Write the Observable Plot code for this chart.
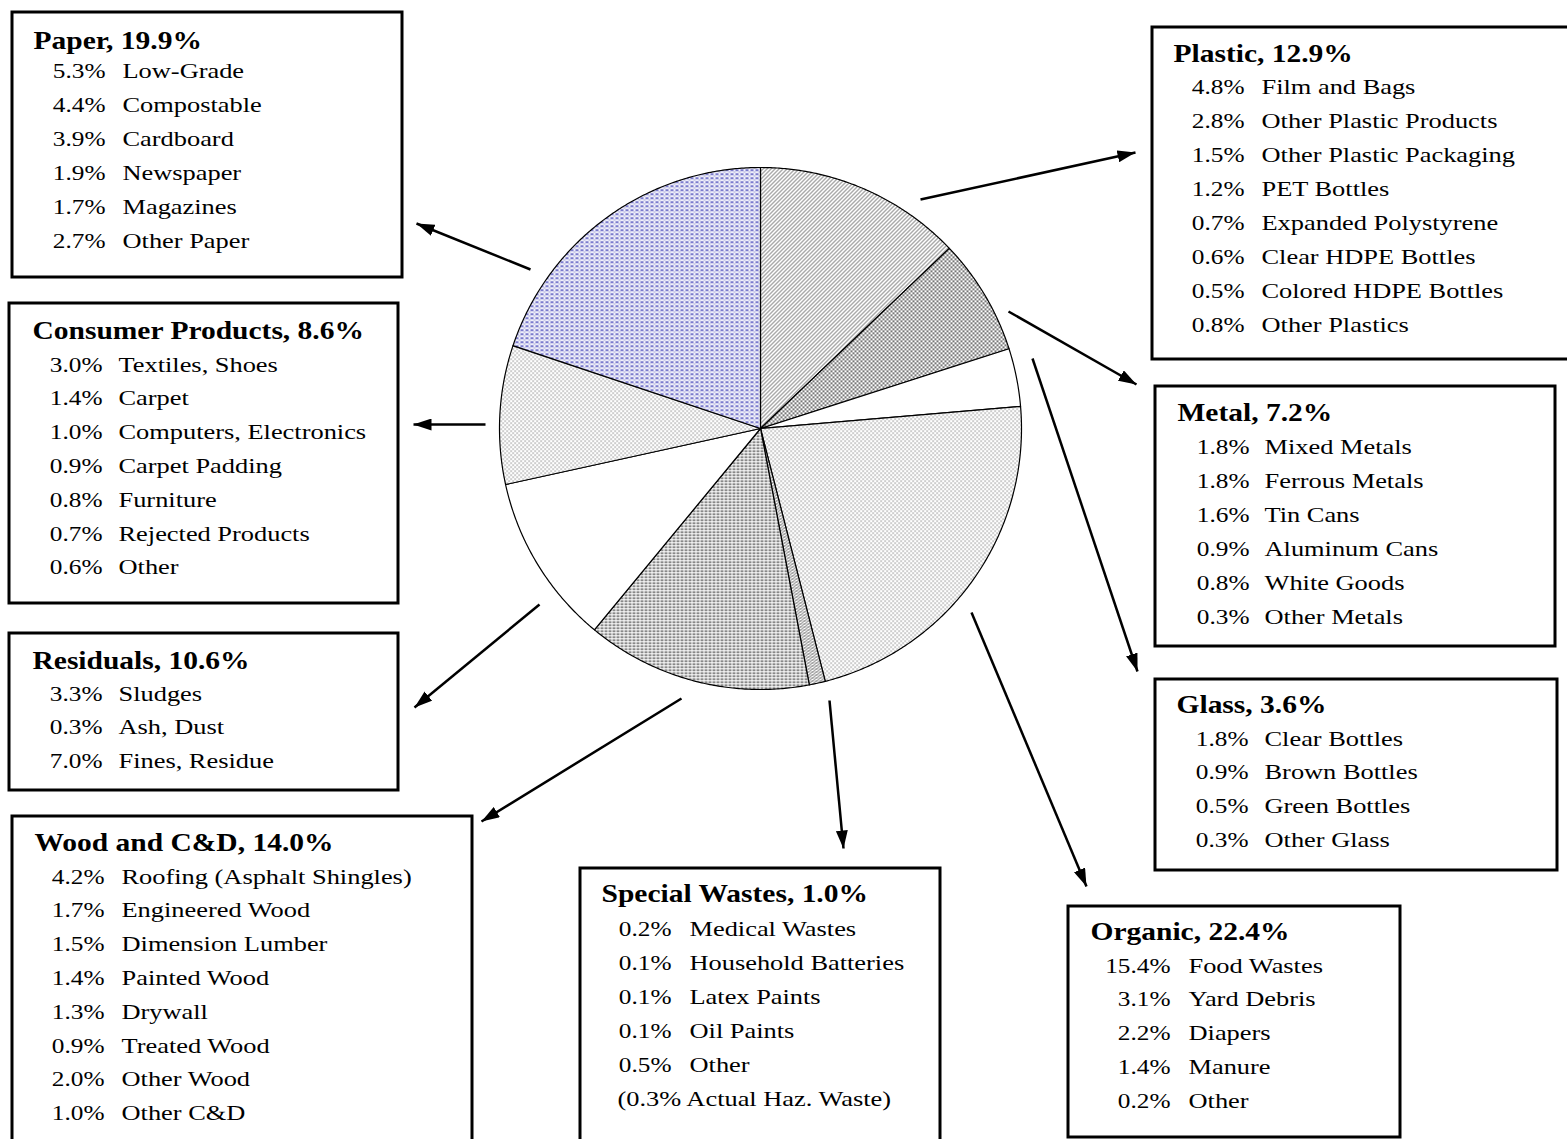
<!DOCTYPE html>
<html>
<head>
<meta charset="utf-8">
<script src="https://cdn.jsdelivr.net/npm/d3@7"></script>
<script src="https://cdn.jsdelivr.net/npm/@observablehq/plot@0.6"></script>
<style>
  body { margin: 0; background: #fff; }
</style>
</head>
<body>
<div id="chart"></div>
<script>
// ---- Waste composition: main categories (clockwise from 12 o'clock) ----
const categories = ["Plastic", "Metal", "Glass", "Organic", "Special Wastes",
                    "Wood and C&D", "Residuals", "Consumer Products", "Paper"];
const shares = [12.9, 7.2, 3.6, 22.4, 1.0, 14.0, 10.6, 8.6, 19.9];

// ---- Breakdown of each category ----
const plasticItems = ["Film and Bags", "Other Plastic Products", "Other Plastic Packaging", "PET Bottles",
                      "Expanded Polystyrene", "Clear HDPE Bottles", "Colored HDPE Bottles", "Other Plastics"];
const plasticShares = [4.8, 2.8, 1.5, 1.2, 0.7, 0.6, 0.5, 0.8];

const metalItems = ["Mixed Metals", "Ferrous Metals", "Tin Cans", "Aluminum Cans", "White Goods", "Other Metals"];
const metalShares = [1.8, 1.8, 1.6, 0.9, 0.8, 0.3];

const glassItems = ["Clear Bottles", "Brown Bottles", "Green Bottles", "Other Glass"];
const glassShares = [1.8, 0.9, 0.5, 0.3];

const organicItems = ["Food Wastes", "Yard Debris", "Diapers", "Manure", "Other"];
const organicShares = [15.4, 3.1, 2.2, 1.4, 0.2];

const specialItems = ["Medical Wastes", "Household Batteries", "Latex Paints", "Oil Paints", "Other"];
const specialShares = [0.2, 0.1, 0.1, 0.1, 0.5];
const hazardousShare = 0.3;

const woodItems = ["Roofing (Asphalt Shingles)", "Engineered Wood", "Dimension Lumber", "Painted Wood",
                   "Drywall", "Treated Wood", "Other Wood", "Other C&D"];
const woodShares = [4.2, 1.7, 1.5, 1.4, 1.3, 0.9, 2.0, 1.0];

const residualItems = ["Sludges", "Ash, Dust", "Fines, Residue"];
const residualShares = [3.3, 0.3, 7.0];

const consumerItems = ["Textiles, Shoes", "Carpet", "Computers, Electronics", "Carpet Padding",
                       "Furniture", "Rejected Products", "Other"];
const consumerShares = [3.0, 1.4, 1.0, 0.9, 0.8, 0.7, 0.6];

const paperItems = ["Low-Grade", "Compostable", "Cardboard", "Newspaper", "Magazines", "Other Paper"];
const paperShares = [5.3, 4.4, 3.9, 1.9, 1.7, 2.7];

const breakdowns = {
  "Plastic": [plasticItems, plasticShares],
  "Metal": [metalItems, metalShares],
  "Glass": [glassItems, glassShares],
  "Organic": [organicItems, organicShares],
  "Special Wastes": [specialItems, specialShares],
  "Wood and C&D": [woodItems, woodShares],
  "Residuals": [residualItems, residualShares],
  "Consumer Products": [consumerItems, consumerShares],
  "Paper": [paperItems, paperShares]
};

// ---- Layout ----
const W = 1567, H = 1139;
const pie = {cx: 760, cy: 428, r: 261};

// callout boxes: frame, heading position, first row baseline, row step, % column right edge, label column
const boxes = {
  "Paper":             {x1: 12,   y1: 12,  x2: 402,  y2: 277,  hx: 33,   hy: 48,  ry: 77,  step: 34,   pr: 105,  lx: 122},
  "Plastic":           {x1: 1152, y1: 27,  x2: 1600, y2: 359,  hx: 1173, hy: 61,  ry: 93,  step: 34,   pr: 1244, lx: 1261},
  "Consumer Products": {x1: 9,    y1: 303, x2: 398,  y2: 603,  hx: 32,   hy: 338, ry: 371, step: 33.8, pr: 102,  lx: 118},
  "Residuals":         {x1: 9,    y1: 633, x2: 398,  y2: 790,  hx: 32,   hy: 668, ry: 700, step: 33.5, pr: 102,  lx: 118},
  "Wood and C&D":      {x1: 12,   y1: 816, x2: 472,  y2: 1170, hx: 34,   hy: 850, ry: 883, step: 33.8, pr: 104,  lx: 121},
  "Special Wastes":    {x1: 580,  y1: 868, x2: 940,  y2: 1170, hx: 601,  hy: 901, ry: 935, step: 34,   pr: 671,  lx: 689},
  "Metal":             {x1: 1155, y1: 386, x2: 1555, y2: 646,  hx: 1177, hy: 420, ry: 453, step: 34,   pr: 1249, lx: 1264},
  "Glass":             {x1: 1155, y1: 679, x2: 1557, y2: 870,  hx: 1176, hy: 712, ry: 745, step: 33.8, pr: 1248, lx: 1264},
  "Organic":           {x1: 1068, y1: 906, x2: 1400, y2: 1137, hx: 1090, hy: 939, ry: 972, step: 33.8, pr: 1170, lx: 1188}
};

// leader arrows from the pie to each box
const arrows = [
  {x1: 920, y1: 199, x2: 1135, y2: 152},
  {x1: 1008, y1: 311, x2: 1136, y2: 384},
  {x1: 1032, y1: 358, x2: 1137, y2: 671},
  {x1: 971, y1: 612, x2: 1086, y2: 886},
  {x1: 829, y1: 700, x2: 843, y2: 848},
  {x1: 681, y1: 698, x2: 481, y2: 821},
  {x1: 539, y1: 604, x2: 414, y2: 707},
  {x1: 485, y1: 424, x2: 413, y2: 424},
  {x1: 530, y1: 269, x2: 416, y2: 223}
];

// slice fills (SVG patterns defined below)
const sliceFill = {
  "Plastic": "url(#p-hatch)",
  "Metal": "url(#p-dense)",
  "Glass": "white",
  "Organic": "url(#p-dots)",
  "Special Wastes": "url(#p-hatch2)",
  "Wood and C&D": "url(#p-dash)",
  "Residuals": "white",
  "Consumer Products": "url(#p-dots)",
  "Paper": "url(#p-blue)"
};

// ---- Pie slices as closed polygons ----
const arcs = d3.pie().sort(null).value(d => d)(shares);
const slices = arcs.map((a, i) => {
  const pts = [{x: pie.cx, y: pie.cy}];
  const n = Math.max(2, Math.ceil((a.endAngle - a.startAngle) / 0.008));
  for (let k = 0; k <= n; ++k) {
    const t = a.startAngle + (a.endAngle - a.startAngle) * k / n;
    pts.push({x: pie.cx + pie.r * Math.sin(t), y: pie.cy - pie.r * Math.cos(t)});
  }
  pts.push({x: pie.cx, y: pie.cy});
  return {category: categories[i], pts};
});

// ---- Text rows ----
const headings = [], pctRows = [], labelRows = [], notes = [];
categories.forEach((c, i) => {
  const b = boxes[c];
  headings.push({x: b.hx, y: b.hy, text: `${c}, ${shares[i].toFixed(1)}%`});
  const [items, vals] = breakdowns[c];
  items.forEach((it, j) => {
    const y = b.ry + j * b.step;
    pctRows.push({x: b.pr, y, text: `${vals[j].toFixed(1)}%`});
    labelRows.push({x: b.lx, y, text: it});
  });
  if (c === "Special Wastes") {
    notes.push({x: 617, y: b.ry + items.length * b.step, text: `(${hazardousShare.toFixed(1)}% Actual Haz. Waste)`});
  }
});

const font = "'Liberation Serif', 'Times New Roman', serif";

const chart = Plot.plot({
  width: W,
  height: H,
  margin: 0,
  x: {domain: [0, W], range: [0, W], axis: null},
  y: {domain: [0, H], range: [0, H], axis: null},
  style: {background: "white"},
  marks: [
    ...slices.map(s => Plot.line(s.pts, {
      x: "x", y: "y", fill: sliceFill[s.category], stroke: "black", strokeWidth: 1.2, curve: "linear"
    })),
    Plot.link(arrows, {x1: "x1", y1: "y1", x2: "x2", y2: "y2", stroke: "black", strokeWidth: 2.5}),
    Plot.rect(Object.values(boxes), {x1: "x1", y1: "y1", x2: "x2", y2: "y2", fill: "white", stroke: "black", strokeWidth: 3}),
    Plot.text(headings, {x: "x", y: "y", text: "text", textAnchor: "start", lineAnchor: "bottom",
      fontSize: 25, fontWeight: "bold", fontFamily: font, fill: "black", className: "head"}),
    Plot.text(pctRows, {x: "x", y: "y", text: "text", textAnchor: "end", lineAnchor: "bottom",
      fontSize: 22, fontFamily: font, fill: "black", className: "pct"}),
    Plot.text(labelRows, {x: "x", y: "y", text: "text", textAnchor: "start", lineAnchor: "bottom",
      fontSize: 22, fontFamily: font, fill: "black", className: "lbl"}),
    Plot.text(notes, {x: "x", y: "y", text: "text", textAnchor: "start", lineAnchor: "bottom",
      fontSize: 22, fontFamily: font, fill: "black", className: "lbl"})
  ]
});

// pattern fills and the filled arrowhead
const svg = d3.select(chart);
const defs = svg.insert("defs", ":first-child");

const hatch = defs.append("pattern").attr("id", "p-hatch").attr("patternUnits", "userSpaceOnUse")
  .attr("width", 4).attr("height", 4);
hatch.append("rect").attr("width", 4).attr("height", 4).attr("fill", "white");
hatch.append("path").attr("d", "M0,3L3,0M3,4L4,3").attr("stroke", "#555").attr("stroke-width", 1);

const hatch2 = defs.append("pattern").attr("id", "p-hatch2").attr("patternUnits", "userSpaceOnUse")
  .attr("width", 4).attr("height", 3);
hatch2.append("rect").attr("width", 4).attr("height", 3).attr("fill", "white");
hatch2.append("path").attr("d", "M0,3L3,0M3,3L4,2").attr("stroke", "#555").attr("stroke-width", 1);

const dense = defs.append("pattern").attr("id", "p-dense").attr("patternUnits", "userSpaceOnUse")
  .attr("width", 4).attr("height", 4);
dense.append("rect").attr("width", 4).attr("height", 4).attr("fill", "white");
dense.append("rect").attr("x", 0).attr("y", 0).attr("width", 2).attr("height", 1.5).attr("fill", "#4a4a4a");
dense.append("rect").attr("x", 2).attr("y", 2).attr("width", 2).attr("height", 1.5).attr("fill", "#4a4a4a");

const dots = defs.append("pattern").attr("id", "p-dots").attr("patternUnits", "userSpaceOnUse")
  .attr("width", 4).attr("height", 4);
dots.append("rect").attr("width", 4).attr("height", 4).attr("fill", "white");
dots.append("rect").attr("x", 0).attr("y", 0).attr("width", 1.2).attr("height", 1.2).attr("fill", "#777");
dots.append("rect").attr("x", 2).attr("y", 2).attr("width", 1.2).attr("height", 1.2).attr("fill", "#777");

const dash = defs.append("pattern").attr("id", "p-dash").attr("patternUnits", "userSpaceOnUse")
  .attr("width", 4).attr("height", 3);
dash.append("rect").attr("width", 4).attr("height", 3).attr("fill", "white");
dash.append("rect").attr("x", 0).attr("y", 0).attr("width", 3).attr("height", 1.4).attr("fill", "#555");

const blue = defs.append("pattern").attr("id", "p-blue").attr("patternUnits", "userSpaceOnUse")
  .attr("width", 5).attr("height", 4);
blue.append("rect").attr("width", 5).attr("height", 4).attr("fill", "#f0f0fa");
blue.append("rect").attr("x", 0).attr("y", 1).attr("width", 3).attr("height", 1.3).attr("fill", "#3f3fb5");
blue.append("rect").attr("x", 3).attr("y", 3).attr("width", 2).attr("height", 1).attr("fill", "#a8a8d8");

defs.append("marker").attr("id", "arrowhead")
  .attr("viewBox", "0 0 18 12").attr("refX", 18).attr("refY", 6)
  .attr("markerWidth", 18).attr("markerHeight", 12)
  .attr("markerUnits", "userSpaceOnUse").attr("orient", "auto")
  .append("path").attr("d", "M0,0L18,6L0,12Z").attr("fill", "black");

svg.selectAll("g[aria-label='link'] path").attr("marker-end", "url(#arrowhead)");

// widen the type slightly, keeping each anchor in place
const widen = {head: 1.18, pct: 1.15, lbl: 1.2};
Object.entries(widen).forEach(([cls, k]) => {
  svg.selectAll(`g.${cls} text`).attr("transform", function () {
    return (this.getAttribute("transform") || "") + ` scale(${k},1)`;
  });
});

document.getElementById("chart").append(chart);
</script>
</body>
</html>
